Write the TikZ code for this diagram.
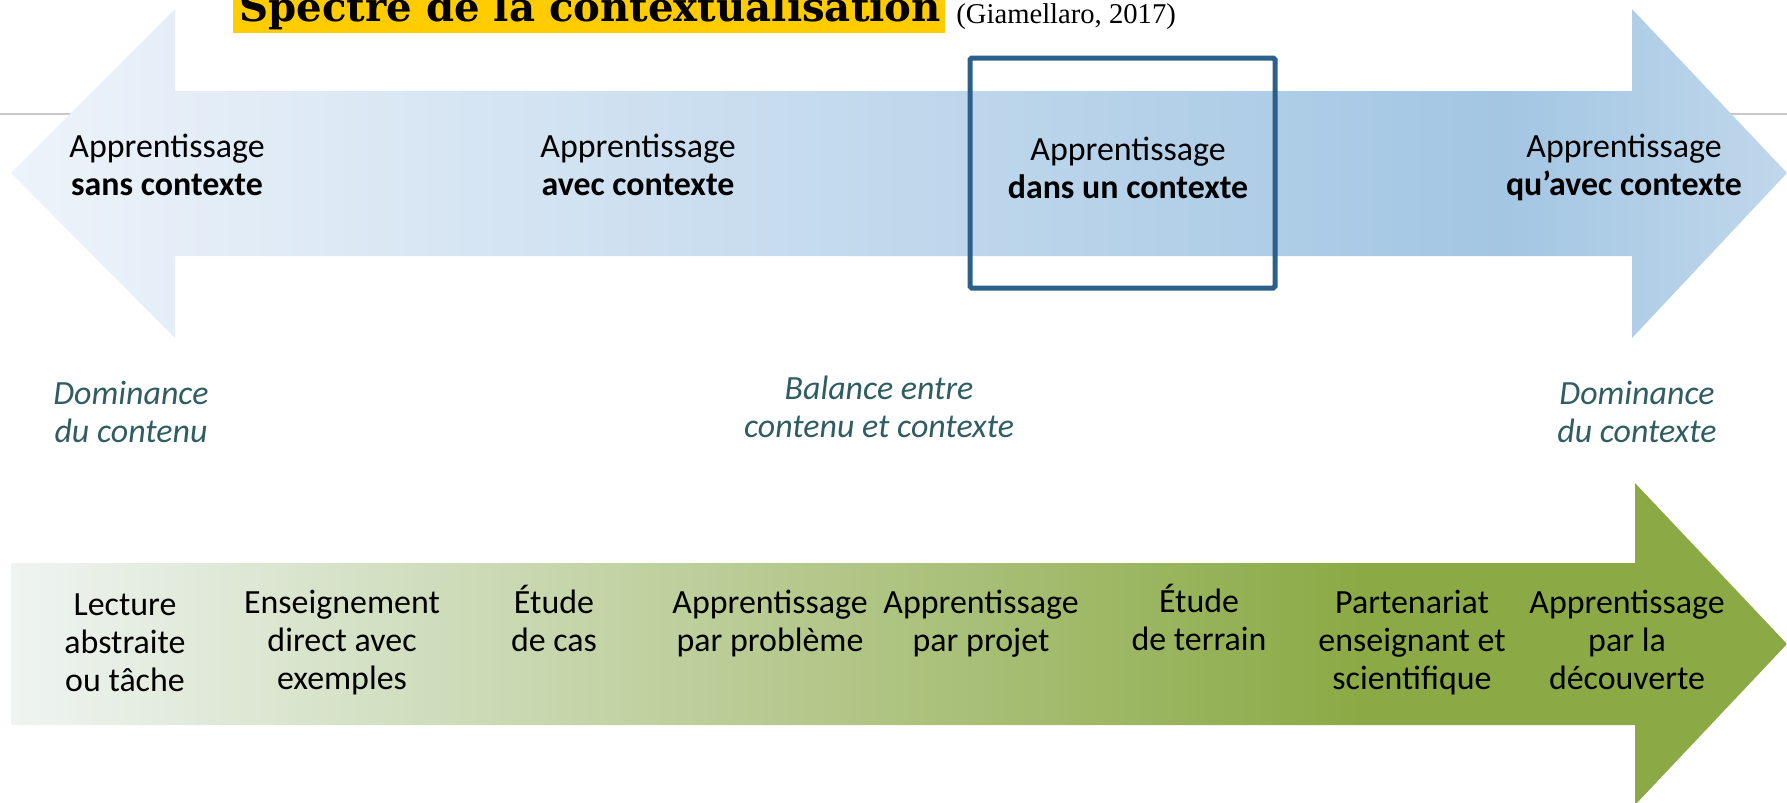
\documentclass[tikz,border=0pt]{standalone}
\usepackage{fontspec}
\setmainfont{Carlito}
\newfontfamily\titlefont{DejaVu Serif}
\newfontfamily\citefont{Liberation Serif}

\definecolor{topA}{HTML}{EDF3FA}
\definecolor{topB}{HTML}{A3C6E3}
\definecolor{topC}{HTML}{C0D7EB}
\definecolor{botA}{HTML}{EFF4F2}
\definecolor{botB}{HTML}{8BAA45}
\definecolor{framecol}{HTML}{2C5F8A}
\definecolor{notecol}{HTML}{2F5D62}
\definecolor{hilite}{HTML}{FFCC00}
\definecolor{rulecol}{HTML}{C8C8C8}

\pgfdeclarehorizontalshading{topgrad}{100bp}{color(0bp)=(topA); color(25bp)=(topA); color(67bp)=(topB); color(75bp)=(topC); color(100bp)=(topC)}
\pgfdeclarehorizontalshading{botgrad}{100bp}{color(0bp)=(botA); color(25bp)=(botA); color(63bp)=(botB); color(100bp)=(botB)}

\begin{document}
\begin{tikzpicture}[x=0.02cm,y=-0.02cm,
    toptxt/.style={font=\fontsize{19.3}{21.6}\selectfont, align=center, anchor=base, inner sep=0pt},
    sidetxt/.style={toptxt, font=\fontsize{19.3}{21.6}\selectfont\itshape, text=notecol},
    methtxt/.style={toptxt}]

    \useasboundingbox (0,0) rectangle (1787,802);
    \clip (0,0) rectangle (1787,802);

    % Slide rule behind the arrow
    \draw[rulecol, line width=1.1pt] (0,114) -- (1787,114);

    % Title (base anchor = last line)
    \fill[hilite] (233,-5) rectangle (945,33);
    \node[anchor=base west, inner sep=0pt, font=\titlefont\bfseries\fontsize{22.9}{25}\selectfont] (title) at (239,21) {Spectre de la contextualisation};
    \node[anchor=base west, inner sep=0pt, font=\citefont\fontsize{16.3}{18}\selectfont] (cite) at (956,23) {(Giamellaro, 2017)};

    % Spectrum (double arrow)
    \shade[shading=topgrad] (11,173) -- (175,9) -- (175,91) -- (1632,91) -- (1632,9) -- (1787,173)
        -- (1632,338) -- (1632,256) -- (175,256) -- (175,338) -- cycle;

    % Approaches (green arrow)
    \shade[shading=botgrad] (11,563) -- (1635,563) -- (1635,483) -- (1787,644)
        -- (1635,805) -- (1635,725) -- (11,725) -- cycle;

    % Frame round the middle case
    \draw[framecol, line width=2.85pt, rounded corners=1pt] (970,58) rectangle (1275,288);

    % Labels on the spectrum
    \node[toptxt] (sans) at (167,195) {Apprentissage\\\textbf{sans contexte}};
    \node[toptxt] (avec) at (638,195) {Apprentissage\\\textbf{avec contexte}};
    \node[toptxt] (dans) at (1128,198) {Apprentissage\\\textbf{dans un contexte}};
    \node[toptxt] (quavec) at (1624,195) {Apprentissage\\\textbf{qu’avec contexte}};

    % Dominance notes
    \node[sidetxt] (dcontenu) at (131,442) {Dominance\\du contenu};
    \node[sidetxt] (balance) at (879,437) {Balance entre\\contenu et contexte};
    \node[sidetxt] (dcontexte) at (1637,442) {Dominance\\du contexte};

    % Methods on the green arrow
    \node[methtxt] (lecture) at (125,691) {Lecture\\abstraite\\ou tâche};
    \node[methtxt] (direct) at (342,689) {Enseignement\\direct avec\\exemples};
    \node[methtxt] (cas) at (554,651) {Étude\\de cas};
    \node[methtxt] (probleme) at (770,651) {Apprentissage\\par problème};
    \node[methtxt] (projet) at (981,651) {Apprentissage\\par projet};
    \node[methtxt] (terrain) at (1199,650) {Étude\\de terrain};
    \node[methtxt] (partenariat) at (1412,689) {Partenariat\\enseignant et\\scientifique};
    \node[methtxt] (decouverte) at (1627,689) {Apprentissage\\par la\\découverte};

\end{tikzpicture}
\end{document}
